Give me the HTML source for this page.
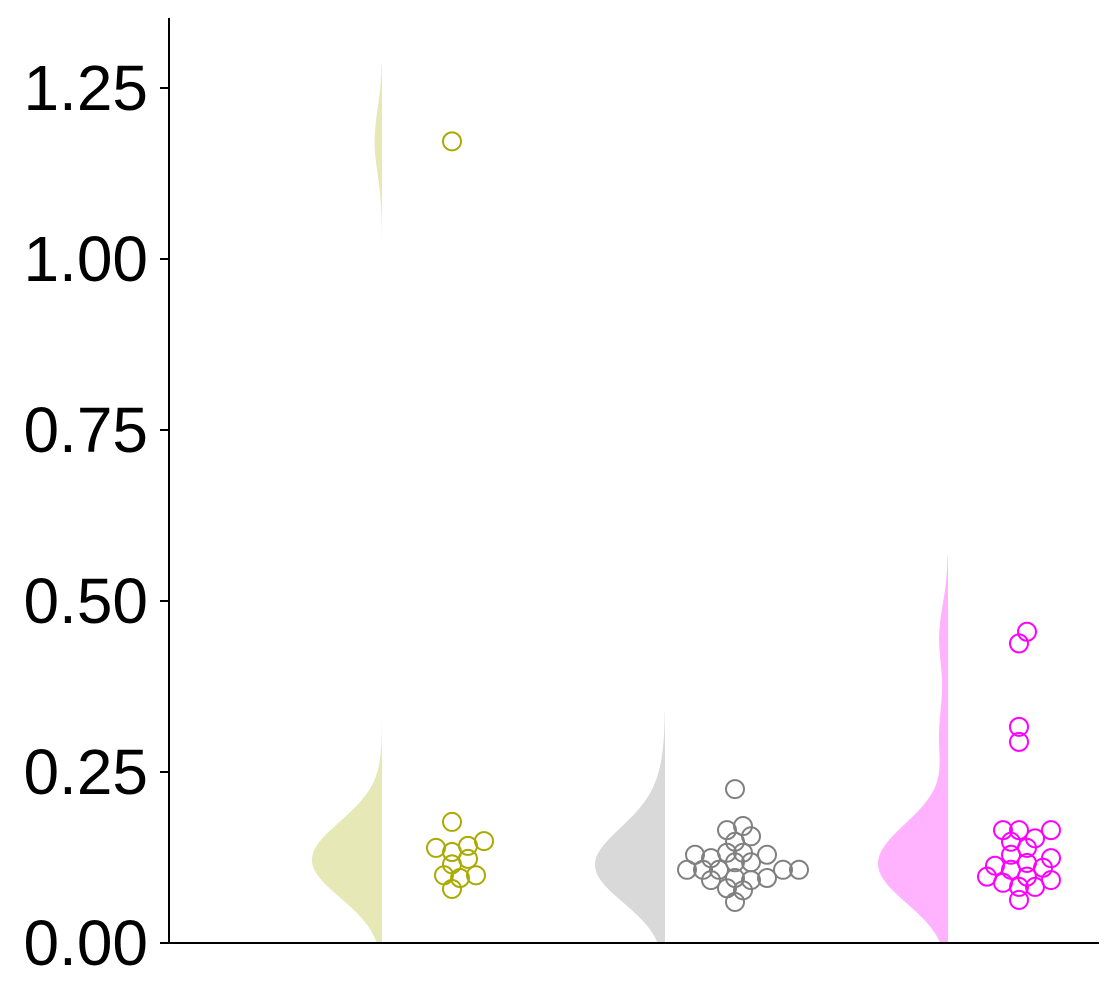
<!DOCTYPE html>
<html><head><meta charset="utf-8"><style>body{margin:0;background:#fff}svg{display:block}</style></head>
<body>
<svg id="chart" width="1119" height="1000" font-family="Liberation Sans, sans-serif"></svg>
<script>
const groupNames=['olive','gray','magenta'];
const oliveValues=[0.177,0.142,0.133,0.139,0.149,0.123,0.099,0.095,0.099,0.115,0.079,1.172];
const grayValues=[0.225,0.171,0.165,0.156,0.148,0.132,0.118,0.124,0.129,0.129,0.132,0.118,0.107,0.107,0.107,0.107,0.107,0.092,0.095,0.095,0.092,0.077,0.080,0.060];
const magentaValues=[0.455,0.438,0.316,0.294,0.165,0.165,0.165,0.153,0.148,0.139,0.129,0.124,0.117,0.110,0.113,0.107,0.092,0.097,0.097,0.088,0.082,0.082,0.063];
const yTicks=[0,0.25,0.5,0.75,1.0,1.25];
const yTickLabels=['0.00','0.25','0.50','0.75','1.00','1.25'];
const NS='http://www.w3.org/2000/svg';
const svg=document.getElementById('chart');
const y=v=>943-v*684;
const groups=[
 {vals:oliveValues,cx:382,px:452,fill:'#e6e8b5',stroke:'#aaaa00'},
 {vals:grayValues,cx:665,px:735,fill:'#d9d9d9',stroke:'#808080'},
 {vals:magentaValues,cx:948,px:1019,fill:'#ffb3ff',stroke:'#ff00ff'}];
function mk(t,a){const e=document.createElementNS(NS,t);for(const k in a)e.setAttribute(k,a[k]);svg.appendChild(e);return e;}
const bw=0.047;
groups.forEach((g,gi)=>{
 const vals=g.vals,lo=Math.max(0,Math.min(...vals)-2.5*bw),hi=Math.max(...vals)+2.4*bw;
 const dens=v=>vals.reduce((s,x)=>s+Math.exp(-0.5*((v-x)/bw)**2),0);
 const pts=[];let mx=0;const n=300;
 for(let i=0;i<=n;i++){const v=lo+(hi-lo)*i/n;const d=dens(v);pts.push([v,d]);if(d>mx)mx=d;}
 let dstr=`M${g.cx},${y(lo)}`;
 pts.forEach(p=>{dstr+=` L${g.cx-70*p[1]/mx},${y(p[0])}`});
 dstr+=` L${g.cx},${y(hi)} Z`;
 const path=mk('path',{d:dstr,fill:g.fill});
 
 
 const sorted=vals.slice().sort((a,b)=>a-b);const placed=[];const D=12;
 sorted.forEach(v=>{const yy=y(v);let off=0;
  for(let k=0;k<40;k++){const o=(k%2?1:-1)*Math.ceil(k/2)*8;
   if(placed.every(p=>Math.hypot(p[0]-o,p[1]-yy)>=D)){off=o;break;}}
  placed.push([off,yy]);
  const c=mk('circle',{cx:g.px+off,cy:yy,r:9,fill:'none',stroke:g.stroke,'stroke-width':2});
  
  
 });
});
const ya=mk('line',{x1:169,y1:18,x2:169,y2:943,stroke:'#000','stroke-width':2});


const xa=mk('line',{x1:168,y1:943,x2:1099,y2:943,stroke:'#000','stroke-width':2});


yTicks.forEach((t,i)=>{
 const tk=mk('line',{x1:160,y1:y(t),x2:169,y2:y(t),stroke:'#000','stroke-width':2});
 
 
 const tx=mk('text',{x:148,y:y(t)+22,'text-anchor':'end','font-size':64,fill:'#000'});
 tx.textContent=yTickLabels[i];
 
 
});
</script>
</body></html>
